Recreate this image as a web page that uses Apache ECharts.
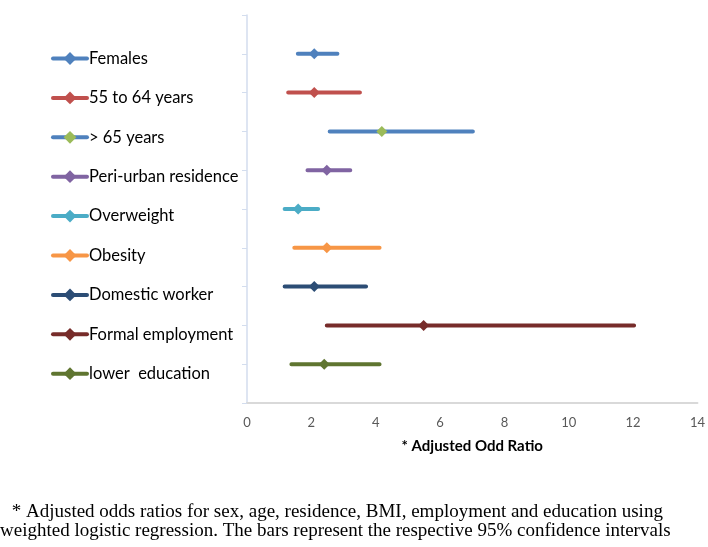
<!DOCTYPE html>
<html>
<head>
<meta charset="utf-8">
<script src="https://cdn.jsdelivr.net/npm/echarts@6/dist/echarts.min.js"></script>
<style>
html,body{margin:0;padding:0;background:#fff;}
#chart{width:708px;height:547px;}
</style>
</head>
<body>
<div id="chart"></div>
<script>
var categories = ["Females", "55 to 64 years", "> 65 years", "Peri-urban residence", "Overweight", "Obesity", "Domestic worker", "Formal employment", "lower  education"];
var oddsRatios = [2.09, 2.09, 4.19, 2.48, 1.59, 2.48, 2.09, 5.49, 2.40];
var lowerCI = [1.58, 1.28, 2.57, 1.88, 1.17, 1.47, 1.17, 2.48, 1.38];
var upperCI = [2.81, 3.51, 7.02, 3.21, 2.21, 4.12, 3.70, 12.03, 4.12];
var rowPositions = [9, 8, 7, 6, 5, 4, 3, 2, 1];
var xTicks = [0, 2, 4, 6, 8, 10, 12, 14];
var lineColors = ["#4F81BD", "#C0504D", "#4F81BD", "#8064A2", "#4BACC6", "#F79646", "#2C4D75", "#772C2A", "#5F7530"];
var markerColors = ["#4F81BD", "#C0504D", "#9BBB59", "#8064A2", "#4BACC6", "#F79646", "#2C4D75", "#772C2A", "#5F7530"];

var series = categories.map(function (name, i) {
  var y = rowPositions[i];
  return {
    name: name,
    type: 'line',
    symbol: 'diamond',
    symbolSize: 11,
    showAllSymbol: true,
    lineStyle: { color: lineColors[i], width: 4, cap: 'round' },
    itemStyle: { color: markerColors[i] },
    emphasis: { disabled: true },
    data: [
      { value: [lowerCI[i], y], symbol: 'none' },
      { value: [oddsRatios[i], y] },
      { value: [upperCI[i], y], symbol: 'none' }
    ]
  };
});

var chart = echarts.init(document.getElementById('chart'), null, { renderer: 'canvas' });
chart.setOption({
  animation: false,
  backgroundColor: '#fff',
  grid: { left: 247, right: 8, top: 15, bottom: 144, containLabel: false },
  legend: {
    orient: 'vertical',
    left: 46,
    top: 45,
    itemWidth: 34,
    itemHeight: 16,
    itemGap: 22.4,
    lineStyle: { width: 4 },
    textStyle: { fontFamily: 'Lato', fontSize: 16.5, color: '#000', padding: [0, 0, 0, -3] },
    data: categories
  },
  xAxis: {
    type: 'value',
    min: xTicks[0],
    max: xTicks[xTicks.length - 1],
    interval: 2,
    name: '* Adjusted Odd Ratio',
    nameLocation: 'middle',
    nameGap: 36,
    nameTextStyle: { fontFamily: 'Lato', fontSize: 15, fontWeight: 'bold', color: '#000' },
    axisLine: { show: true, lineStyle: { color: '#D9D9D9', width: 2 } },
    axisTick: { show: false },
    splitLine: { show: false },
    axisLabel: { fontFamily: 'Lato', fontSize: 13, color: '#595959', margin: 13 }
  },
  yAxis: {
    type: 'value',
    min: 0,
    max: 10,
    interval: 1,
    axisLine: { show: true, onZero: false, lineStyle: { color: '#D3DDEE', width: 1.5 } },
    axisTick: { show: true, length: 5, lineStyle: { color: '#D3DDEE' } },
    axisLabel: { show: false },
    splitLine: { show: false }
  },
  series: series,
  graphic: [
    { type: 'text', left: 7, top: 503, style: { text: ' * Adjusted odds ratios for sex, age, residence, BMI, employment and education using', font: '19px "Liberation Serif"', fill: '#000' } },
    { type: 'text', left: 0, top: 522, style: { text: 'weighted logistic regression. The bars represent the respective 95% confidence intervals', font: '19px "Liberation Serif"', fill: '#000' } }
  ]
});
</script>
</body>
</html>
